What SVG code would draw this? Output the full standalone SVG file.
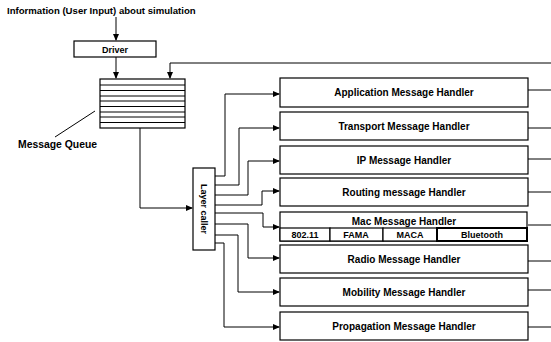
<svg xmlns="http://www.w3.org/2000/svg" width="551" height="342" viewBox="0 0 551 342">
<style>
text{font-family:"Liberation Sans",Arial,sans-serif;font-weight:bold;font-size:9px;fill:#000}
.c{text-anchor:middle}
.h{font-size:10px}
.t{font-size:9.6px}
.q{font-size:10.4px}
.box{fill:#fff;stroke:#000;stroke-width:1.2}
.ln{fill:none;stroke:#000;stroke-width:1}
.arr{fill:none;stroke:#000;stroke-width:1;marker-end:url(#ah)}
</style>
<defs>
<marker id="ah" markerUnits="userSpaceOnUse" markerWidth="7" markerHeight="6" refX="6" refY="3" orient="auto">
<path d="M0,0 L7,3 L0,6 z" fill="#000"/>
</marker>
</defs>
<rect width="551" height="342" fill="#fff"/>
<text class="t" x="7" y="14">Information (User Input) about simulation</text>

<g id="connectors">
<path class="arr" d="M116,17 V40"/>
<path class="arr" d="M116,57 V78"/>
<path class="arr" d="M551,63 H170 V78"/>
<path class="arr" d="M140,128 V208 H192"/>
<path class="ln" d="M55,137 L95,111"/>
<path class="arr" d="M215,176 H225 V94 H279"/>
<path class="arr" d="M215,185 H239 V128 H279"/>
<path class="arr" d="M215,195 H248 V161 H279"/>
<path class="arr" d="M215,205 H262 V191 H279"/>
<path class="arr" d="M215,213 H263 V227 H279"/>
<path class="arr" d="M215,224 H248 V258 H279"/>
<path class="arr" d="M215,235 H238 V292 H279"/>
<path class="arr" d="M215,243 H224 V327 H279"/>
<path class="ln" d="M528,90 H551 M528,128 H551 M528,159 H551 M528,192 H551 M528,225 H551 M528,261 H551 M528,290 H551 M528,327 H551"/>
</g>

<g id="driver">
<rect class="box" x="74" y="41" width="82" height="16"/>
<text class="c" x="115" y="52.5">Driver</text>
</g>

<g id="queue">
<rect class="box" x="100" y="79" width="85" height="49"/>
<path class="ln" d="M100,85 H185 M100,90.5 H185 M100,96 H185 M100,101 H185 M100,106.5 H185 M100,112 H185 M100,117 H185 M100,122.5 H185"/>
<text class="q" x="18" y="147.5">Message Queue</text>
</g>

<g id="layer-caller">
<rect class="box" x="193" y="168" width="22" height="82"/>
<text class="c" transform="translate(201,209) rotate(90)">Layer caller</text>
</g>

<g id="app">
<rect class="box" x="280" y="78" width="248" height="29"/>
<text class="c h" x="404" y="96">Application Message Handler</text>
</g>
<g id="transport">
<rect class="box" x="280" y="112" width="248" height="28"/>
<text class="c h" x="404" y="129.5">Transport Message Handler</text>
</g>
<g id="ip">
<rect class="box" x="280" y="146" width="248" height="28"/>
<text class="c h" x="404" y="163.5">IP Message Handler</text>
</g>
<g id="routing">
<rect class="box" x="280" y="178" width="248" height="28"/>
<text class="c h" x="404" y="195.5">Routing message Handler</text>
</g>
<g id="mac">
<rect class="box" x="280" y="212" width="247" height="29"/>
<text class="c h" x="404" y="224.5">Mac Message Handler</text>
<rect class="box" x="280" y="228" width="50" height="13"/>
<text class="c" x="305" y="238">802.11</text>
<rect class="box" x="330" y="228" width="53" height="13"/>
<text class="c" x="356" y="238">FAMA</text>
<rect class="box" x="383" y="228" width="54" height="13"/>
<text class="c" x="410" y="238">MACA</text>
<rect x="437" y="228" width="90" height="13" fill="#fff" stroke="#000" stroke-width="2"/>
<text class="c" x="482" y="238">Bluetooth</text>
</g>
<g id="radio">
<rect class="box" x="280" y="245" width="248" height="28"/>
<text class="c h" x="404" y="262.5">Radio Message Handler</text>
</g>
<g id="mobility">
<rect class="box" x="280" y="278" width="248" height="28"/>
<text class="c h" x="404" y="295.5">Mobility Message Handler</text>
</g>
<g id="propagation">
<rect class="box" x="280" y="312" width="248" height="28"/>
<text class="c h" x="404" y="329.5">Propagation Message Handler</text>
</g>
</svg>
